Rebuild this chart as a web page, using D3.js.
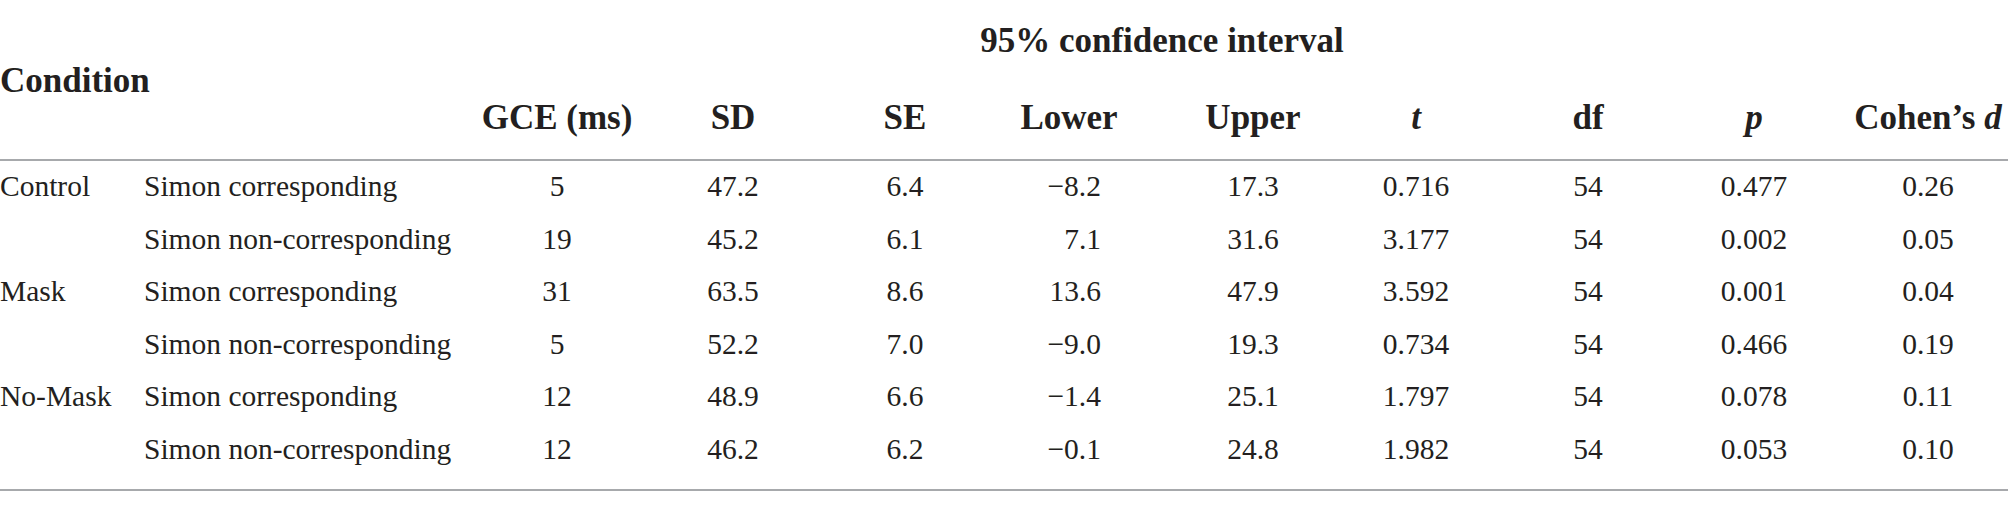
<!DOCTYPE html>
<html>
<head>
<meta charset="utf-8">
<script src="https://cdn.jsdelivr.net/npm/d3@7"></script>
<style>
  html, body { margin: 0; padding: 0; background: #fff; }
  svg { display: block; }
  text { font-family: "Liberation Serif", "DejaVu Serif", serif; fill: #231f20; }
</style>
</head>
<body>
<svg id="chart" width="2008" height="510"></svg>
<script>
// ---- data ----
const conditions = ["Control", "Mask", "No-Mask"];
const simonTypes = ["Simon corresponding", "Simon non-corresponding"];
const gce = [5, 19, 31, 5, 12, 12];
const sd = [47.2, 45.2, 63.5, 52.2, 48.9, 46.2];
const se = [6.4, 6.1, 8.6, 7.0, 6.6, 6.2];
const lower = [-8.2, 7.1, 13.6, -9.0, -1.4, -0.1];
const upper = [17.3, 31.6, 47.9, 19.3, 25.1, 24.8];
const tVals = [0.716, 3.177, 3.592, 0.734, 1.797, 1.982];
const dfVals = [54, 54, 54, 54, 54, 54];
const pVals = [0.477, 0.002, 0.001, 0.466, 0.078, 0.053];
const cohensD = [0.26, 0.05, 0.04, 0.19, 0.11, 0.10];
const columnLabels = ["GCE (ms)", "SD", "SE", "Lower", "Upper", "t", "df", "p", "Cohen’s d"];
const spanLabel = "95% confidence interval";
const stubLabel = "Condition";

// ---- layout ----
const svg = d3.select("#chart");
const W = 2008;
const bodySize = 29.5, headSize = 35;

const rows = d3.range(gce.length).map(i => ({
  cond: i % 2 === 0 ? conditions[i / 2] : "",
  simon: simonTypes[i % 2],
  vals: [
    d3.format("d")(gce[i]),
    d3.format(".1f")(sd[i]),
    d3.format(".1f")(se[i]),
    d3.format(".1f")(lower[i]),
    d3.format(".1f")(upper[i]),
    d3.format(".3f")(tVals[i]),
    d3.format("d")(dfVals[i]),
    d3.format(".3f")(pVals[i]),
    d3.format(".2f")(cohensD[i])
  ]
}));

const y = d3.scalePoint().domain(d3.range(rows.length)).range([196, 458.5]);
const colX = d3.scaleOrdinal().domain(columnLabels)
  .range([557, 733, 905, 1069, 1253, 1416, 1588, 1754, 1928]);
const valAnchor = d3.scaleOrdinal().domain(columnLabels)
  .range(["middle", "middle", "middle", "end", "middle", "middle", "middle", "middle", "middle"]);
const valX = d3.scaleOrdinal().domain(columnLabels)
  .range([557, 733, 905, 1101, 1253, 1416, 1588, 1754, 1928]);

// header
svg.append("text").attr("x", 1162).attr("y", 52).attr("text-anchor", "middle")
  .attr("font-size", headSize).attr("font-weight", "bold").text(spanLabel);
svg.append("text").attr("x", 0).attr("y", 92)
  .attr("font-size", headSize).attr("font-weight", "bold").text(stubLabel);

const hdr = svg.append("g").selectAll("text").data(columnLabels).join("text")
  .attr("x", d => colX(d)).attr("y", 129).attr("text-anchor", "middle")
  .attr("font-size", headSize).attr("font-weight", "bold");
hdr.each(function(d) {
  const t = d3.select(this);
  if (d === "t" || d === "p") {
    t.append("tspan").attr("font-style", "italic").text(d);
  } else if (d === "Cohen’s d") {
    t.append("tspan").text("Cohen’s ");
    t.append("tspan").attr("font-style", "italic").text("d");
  } else {
    t.text(d);
  }
});

// rules
const rules = [160, 490];
svg.append("g").selectAll("line").data(rules).join("line")
  .attr("x1", 0).attr("x2", W).attr("y1", d => d).attr("y2", d => d)
  .attr("stroke", "#a7a9ac").attr("stroke-width", 2);

// body
const body = svg.append("g").attr("font-size", bodySize);
const rowG = body.selectAll("g").data(rows).join("g")
  .attr("transform", (d, i) => `translate(0,${y(i)})`);
rowG.append("text").attr("x", 0).text(d => d.cond);
rowG.append("text").attr("x", 144).text(d => d.simon);
rowG.selectAll("text.v").data(d => d.vals.map((v, j) => ({ v, col: columnLabels[j] })))
  .join("text").attr("class", "v")
  .attr("x", d => valX(d.col)).attr("text-anchor", d => valAnchor(d.col))
  .text(d => d.v);
</script>
</body>
</html>
